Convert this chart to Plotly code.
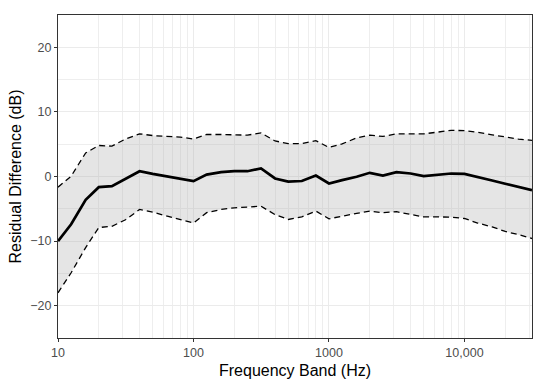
import plotly.graph_objects as go

freqs = [10, 12.5, 16, 20, 25, 31.5, 40, 50, 63, 80, 100, 125, 160, 200, 250, 315,
         400, 500, 630, 800, 1000, 1250, 1600, 2000, 2500, 3150, 4000, 5000, 6300,
         8000, 10000, 12500, 16000, 20000, 25000, 31500]
mean_diff = [-10.0, -7.4, -3.6, -1.65, -1.5, -0.36, 0.82, 0.4, 0.05, -0.3, -0.72, 0.3,
             0.67, 0.82, 0.82, 1.24, -0.3, -0.8, -0.7, 0.15, -1.08, -0.57, -0.05, 0.57,
             0.15, 0.67, 0.46, 0.05, 0.3, 0.46, 0.4, -0.05, -0.62, -1.13, -1.65, -2.1]
upper = [-1.65, 0.05, 3.65, 4.8, 4.7, 5.8, 6.6, 6.34, 6.2, 6.1, 5.8, 6.5, 6.5, 6.4,
         6.4, 6.75, 5.5, 5.1, 5.1, 5.55, 4.5, 5.05, 5.97, 6.4, 6.2, 6.6, 6.6, 6.6,
         6.86, 7.15, 7.1, 6.86, 6.45, 6.1, 5.8, 5.6]
lower = [-18.0, -14.9, -11.0, -7.9, -7.7, -6.7, -5.1, -5.5, -6.1, -6.7, -7.2, -5.6,
         -5.1, -4.85, -4.75, -4.6, -5.9, -6.65, -6.25, -5.35, -6.55, -6.1, -5.7, -5.35,
         -5.6, -5.45, -5.9, -6.25, -6.25, -6.3, -6.5, -7.2, -7.8, -8.5, -9.0, -9.6]

x_tickvals = [10, 100, 1000, 10000]
x_ticktext = ["10", "100", "1000", "10,000"]
y_tickvals = [-20, -10, 0, 10, 20]
x_title = "Frequency Band (Hz)"
y_title = "Residual Difference (dB)"

x_minor = [m * d for d in [10, 100, 1000, 10000] for m in range(2, 10) if m * d <= 31500]

fig = go.Figure()
fig.add_trace(go.Scatter(x=freqs, y=upper, mode="lines", line=dict(width=0),
                         hoverinfo="skip", showlegend=False))
fig.add_trace(go.Scatter(x=freqs, y=lower, mode="lines", line=dict(width=0),
                         fill="tonexty", fillcolor="rgba(175,175,175,0.33)",
                         hoverinfo="skip", showlegend=False))
fig.add_trace(go.Scatter(x=freqs, y=upper, mode="lines",
                         line=dict(color="black", width=1.3, dash="6px,4px"), showlegend=False))
fig.add_trace(go.Scatter(x=freqs, y=lower, mode="lines",
                         line=dict(color="black", width=1.3, dash="6px,4px"), showlegend=False))
fig.add_trace(go.Scatter(x=freqs, y=mean_diff, mode="lines",
                         line=dict(color="black", width=2.7), showlegend=False))

font = "Liberation Sans, Arial, sans-serif"
fig.update_layout(
    width=550, height=383,
    margin=dict(l=50, r=26, t=7, b=53),
    paper_bgcolor="white", plot_bgcolor="white",
    font=dict(family=font),
    xaxis=dict(
        type="log", range=[1, 4.4983], automargin=False,
        tickvals=x_tickvals, ticktext=x_ticktext,
        showgrid=True, gridcolor="#ebebeb", gridwidth=1,
        minor=dict(tickvals=x_minor, showgrid=True, gridcolor="#eeeeee", gridwidth=0.8, ticklen=0),
        ticks="outside", ticklen=3, tickcolor="#333333",
        tickfont=dict(size=12.5, color="#4d4d4d"),
        showline=True, linecolor="#333333", linewidth=1, mirror=True,
        zeroline=False,
    ),
    yaxis=dict(
        range=[-25, 25], automargin=False,
        tickvals=y_tickvals,
        showgrid=True, gridcolor="#ebebeb", gridwidth=1,
        minor=dict(tickvals=[-15, -5, 5, 15], showgrid=True, gridcolor="#eeeeee", gridwidth=0.8, ticklen=0),
        ticks="outside", ticklen=3, tickcolor="#333333",
        tickfont=dict(size=12.5, color="#4d4d4d"),
        showline=True, linecolor="#333333", linewidth=1, mirror=True,
        zeroline=False,
    ),
    annotations=[
        dict(text=x_title, xref="paper", yref="paper", x=0.5, y=0,
             xanchor="center", yanchor="middle", yshift=-32, showarrow=False,
             font=dict(size=16, color="black")),
        dict(text=y_title, xref="paper", yref="paper", x=0, y=0.5,
             xanchor="center", yanchor="middle", xshift=-43, textangle=-90, showarrow=False,
             font=dict(size=16, color="black")),
    ],
)

fig.write_html("out.html")
